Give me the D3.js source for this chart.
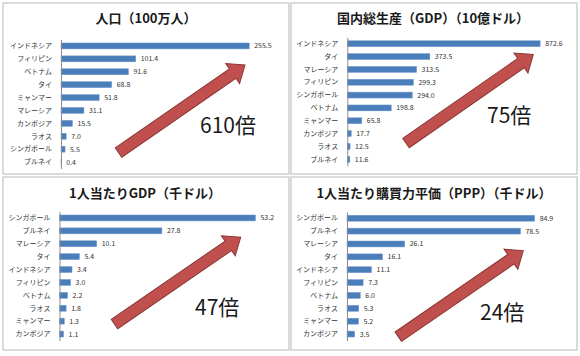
<!DOCTYPE html>
<html><head><meta charset="utf-8">
<script src="https://cdn.jsdelivr.net/npm/d3@7"></script>
<style>body{margin:0;background:#fff} svg{display:block}</style>
</head><body><svg id="c" width="580" height="356"></svg>
<script>
const popCategories = ["インドネシア","フィリピン","ベトナム","タイ","ミャンマー","マレーシア","カンボジア","ラオス","シンガポール","ブルネイ"];
const popValues = [255.5,101.4,91.6,68.8,51.8,31.1,15.5,7.0,5.5,0.4];
const gdpCategories = ["インドネシア","タイ","マレーシア","フィリピン","シンガポール","ベトナム","ミャンマー","カンボジア","ラオス","ブルネイ"];
const gdpValues = [872.6,373.5,313.5,299.3,294.0,198.8,65.8,17.7,12.5,11.6];
const gdpPcCategories = ["シンガポール","ブルネイ","マレーシア","タイ","インドネシア","フィリピン","ベトナム","ラオス","ミャンマー","カンボジア"];
const gdpPcValues = [53.2,27.8,10.1,5.4,3.4,3.0,2.2,1.8,1.3,1.1];
const pppCategories = ["シンガポール","ブルネイ","マレーシア","タイ","インドネシア","フィリピン","ベトナム","ラオス","ミャンマー","カンボジア"];
const pppValues = [84.9,78.5,26.1,16.1,11.1,7.3,6.0,5.3,5.2,3.5];
const titles = ["人口（100万人）","国内総生産（GDP）（10億ドル）","1人当たりGDP（千ドル）","1人当たり購買力平価（PPP）（千ドル）"];
const ratioLabels = ["610倍","75倍","47倍","24倍"];
const axisMax = [300,1000,60,100];

const categoriesList = [popCategories, gdpCategories, gdpPcCategories, pppCategories];
const valuesList = [popValues, gdpValues, gdpPcValues, pppValues];

// layout (positions only)
const layout = [
  {box:[3,3,286,171], ax:61, y0:39.5, y1:168.5, tx:146, ty:23, rx:200, ry:133, tail:[118.5,152.5], tip:[245,65]},
  {box:[291,3,286,171], ax:347.3, y0:37.3, y1:165.7, tx:433, ty:23, rx:487, ry:123, tail:[406,143], tip:[533.3,54.5]},
  {box:[3,177,286,173], ax:59.5, y0:211.5, y1:340.5, tx:145, ty:198, rx:195, ry:315, tail:[114.5,324], tip:[240.7,237.3]},
  {box:[291,177,286,173], ax:347, y0:211.8, y1:340.5, tx:434, ty:198, rx:480, ry:320, tail:[398.3,336.7], tip:[523.3,250.7]}
];
const plotW = 221;
const FONT = "'Noto Sans CJK JP','Noto Sans',sans-serif";

const svg = d3.select("#c");
svg.append("rect").attr("width",580).attr("height",356).attr("fill","#fff");

layout.forEach((L,i)=>{
  const cats = categoriesList[i], vals = valuesList[i];
  const g = svg.append("g");
  g.append("rect").attr("x",L.box[0]).attr("y",L.box[1]).attr("width",L.box[2]).attr("height",L.box[3])
    .attr("fill","#fff").attr("stroke","#c4c4c4").attr("stroke-width",1.2);
  g.append("text").attr("x",L.tx).attr("y",L.ty).attr("text-anchor","middle")
    .attr("font-family",FONT).attr("font-weight","bold").attr("font-size",13).attr("fill","#1a1a1a")
    .text(titles[i]);

  const x = d3.scaleLinear().domain([0,axisMax[i]]).range([L.ax, L.ax+plotW]);
  const y = d3.scaleBand().domain(cats).range([L.y0,L.y1]).paddingInner(0.54).paddingOuter(0.27);

  g.selectAll("rect.bar").data(vals).join("rect").attr("class","bar")
    .attr("x",x(0)).attr("y",(d,j)=>y(cats[j])).attr("width",d=>x(d)-x(0)).attr("height",y.bandwidth())
    .attr("fill","#4a7ebb").attr("stroke","#6f98cc").attr("stroke-width",0.5);

  const axis = d3.axisLeft(y).tickSizeInner(0).tickSizeOuter(0).tickPadding(9);
  const ag = g.append("g").attr("transform",`translate(${L.ax},0)`).call(axis);
  ag.select(".domain").attr("stroke","#8c8c8c").attr("stroke-width",1);
  ag.selectAll("text").attr("font-family",FONT).attr("font-size",7).attr("fill","#333");

  g.selectAll("text.val").data(vals).join("text").attr("class","val")
    .attr("x",d=>x(d)+5).attr("y",(d,j)=>y(cats[j])+y.bandwidth()/2).attr("dy","0.35em")
    .attr("font-family",FONT).attr("font-size",7).attr("fill","#333")
    .text(d=>d.toFixed(1));

  // arrow
  const dx = L.tip[0]-L.tail[0], dy = L.tip[1]-L.tail[1];
  const len = Math.hypot(dx,dy), ang = Math.atan2(dy,dx)*180/Math.PI;
  const sw = 5.7, hw = 12.2, hl = 15;
  const pts = [[0,-sw],[len-hl,-sw],[len-hl,-hw],[len,0],[len-hl,hw],[len-hl,sw],[0,sw]];
  g.append("polygon").attr("points",pts.map(p=>p.join(",")).join(" "))
    .attr("transform",`translate(${L.tail[0]},${L.tail[1]}) rotate(${ang})`)
    .attr("fill","#c0504d").attr("stroke","#8c3836").attr("stroke-width",1);

  g.append("text").attr("x",L.rx).attr("y",L.ry).attr("font-family",FONT).attr("font-size",21)
    .attr("fill","#1a1a1a").text(ratioLabels[i]);
});
</script></body></html>
